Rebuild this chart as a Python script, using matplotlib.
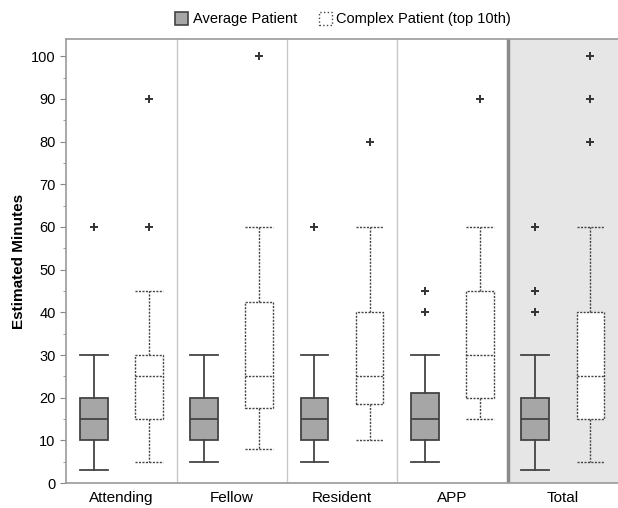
import matplotlib.pyplot as plt
from matplotlib.patches import Patch

plt.rcParams['font.family'] = ['Liberation Sans', 'DejaVu Sans']

groups = ['Attending', 'Fellow', 'Resident', 'APP', 'Total']

# (whislo, q1, med, q3, whishi, outliers)
average = [
    (3, 10, 15, 20, 30, [60]),
    (5, 10, 15, 20, 30, []),
    (5, 10, 15, 20, 30, [60]),
    (5, 10, 15, 21, 30, [40, 45]),
    (3, 10, 15, 20, 30, [40, 45, 60]),
]
complex_ = [
    (5, 15, 25, 30, 45, [60, 90]),
    (8, 17.5, 25, 42.5, 60, [100]),
    (10, 18.5, 25, 40, 60, [80]),
    (15, 20, 30, 45, 60, [90]),
    (5, 15, 25, 40, 60, [80, 90, 100]),
]


def to_stats(rows):
    out = []
    for lo, q1, med, q3, hi, fl in rows:
        out.append(dict(whislo=lo, q1=q1, med=med, q3=q3, whishi=hi, fliers=fl))
    return out


fig = plt.figure(figsize=(6.18, 5.08), dpi=100)
ax = fig.add_axes([0.107, 0.049, 0.893, 0.874])

n = len(groups)
ax.axvspan(n - 1.5, n - 0.5, color='#e6e6e6', zorder=0)

pos = list(range(n))
w = 0.25
edge = '#444444'
flier = dict(marker='+', markersize=6, markeredgewidth=1.4, markeredgecolor='#333333')
dash = (0, (1.5, 1))

ax.bxp(to_stats(average), positions=[p - 0.25 for p in pos], widths=w,
       patch_artist=True, showfliers=True,
       boxprops=dict(facecolor='#a6a6a6', edgecolor=edge, linewidth=1.3),
       medianprops=dict(color=edge, linewidth=1.3),
       whiskerprops=dict(color=edge, linewidth=1.3),
       capprops=dict(color=edge, linewidth=1.3),
       capwidths=w, flierprops=flier, manage_ticks=False)

ax.bxp(to_stats(complex_), positions=[p + 0.25 for p in pos], widths=w,
       patch_artist=True, showfliers=True,
       boxprops=dict(facecolor='white', edgecolor=edge, linewidth=1.0, linestyle=dash),
       medianprops=dict(color=edge, linewidth=1.0, linestyle=dash),
       whiskerprops=dict(color=edge, linewidth=1.0, linestyle=dash),
       capprops=dict(color=edge, linewidth=1.0, linestyle=dash),
       capwidths=w, flierprops=flier, manage_ticks=False)

for i in range(1, n):
    if i == n - 1:
        ax.axvline(i - 0.5, color='#8a8a8a', linewidth=2.5, zorder=1)
    else:
        ax.axvline(i - 0.5, color='#c8c8c8', linewidth=1.0, zorder=1)

ax.set_xlim(-0.5, n - 0.5)
ax.set_ylim(0, 104)
ax.set_yticks(range(0, 101, 10))
ax.set_yticks(range(5, 101, 10), minor=True)
ax.set_xticks(pos)
ax.set_xticklabels(groups, fontsize=11)
ax.tick_params(axis='x', length=0, pad=6)
ax.tick_params(axis='y', labelsize=10.5, color='#888888', length=4)
ax.tick_params(axis='y', which='minor', color='#888888', length=2.5)
ax.set_ylabel('Estimated Minutes', fontsize=11, fontweight='bold')
for s in ax.spines.values():
    s.set_color('#9a9a9a')
    s.set_linewidth(1.2)
ax.spines['right'].set_visible(False)

handles = [
    Patch(facecolor='#a6a6a6', edgecolor=edge, linewidth=1.2),
    Patch(facecolor='white', edgecolor=edge, linewidth=1.0, linestyle=':'),
]
fig.legend(handles, ['Average Patient', 'Complex Patient (top 10th)'],
           loc='center', bbox_to_anchor=(0.555, 0.963), ncol=2, frameon=False,
           fontsize=10.5, handlelength=0.9, handleheight=1.0, handletextpad=0.3,
           columnspacing=1.5)

fig.savefig('out.png', dpi=100)
